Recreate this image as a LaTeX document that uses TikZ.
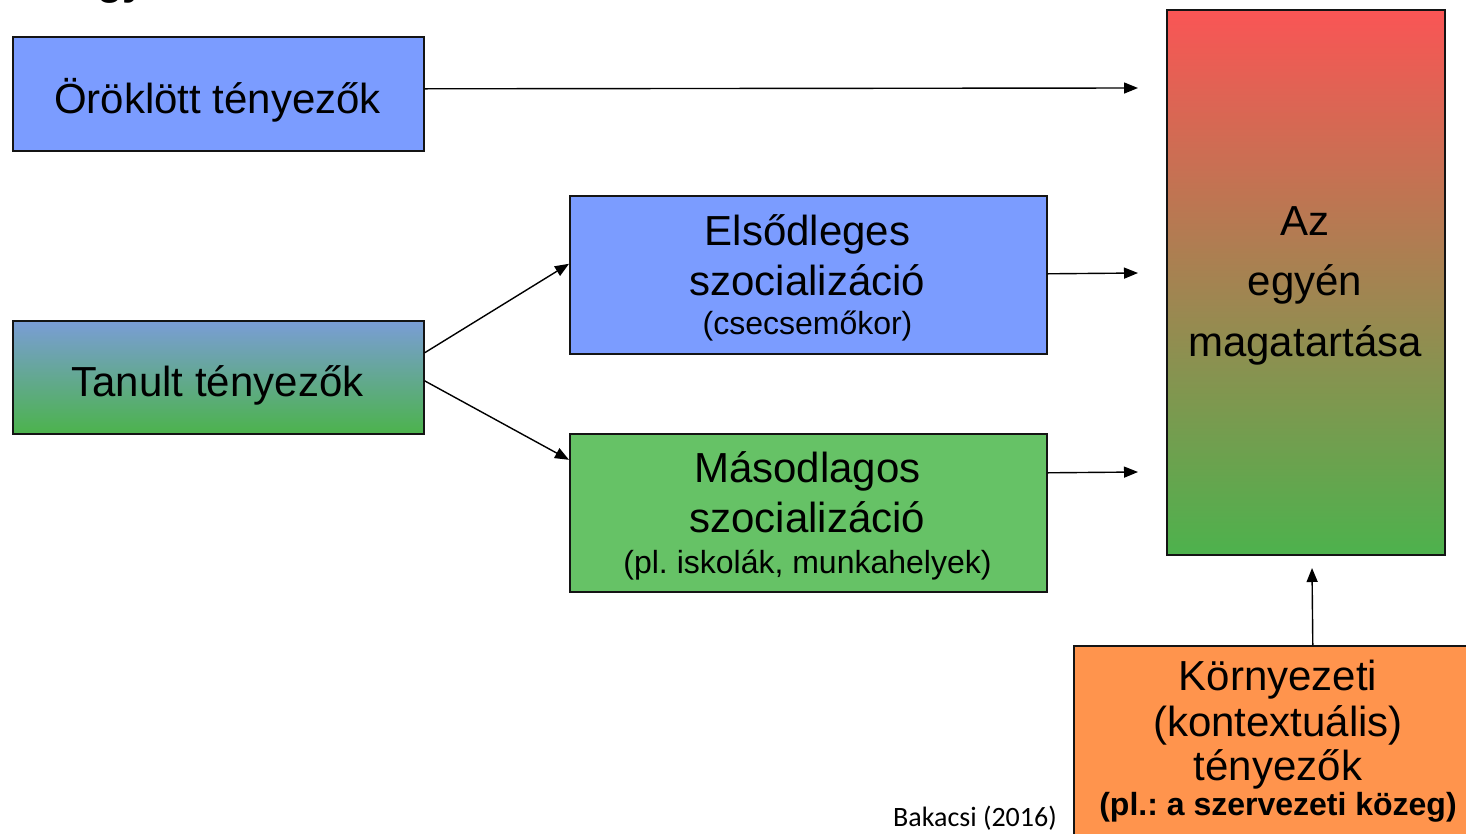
\documentclass[tikz,border=0pt]{standalone}
\usepackage{fontspec}
\setmainfont{Liberation Sans}
\newfontfamily\notefont{Carlito}
\usetikzlibrary{arrows.meta}
\frenchspacing

\definecolor{boxblue}{HTML}{7B9CFF}
\definecolor{boxgreen}{HTML}{66C266}
\definecolor{learntop}{HTML}{7A9DD6}
\definecolor{learnbot}{HTML}{4CB34C}
\definecolor{behtop}{HTML}{FA5555}
\definecolor{behbot}{HTML}{4DB24D}
\definecolor{boxorange}{HTML}{FF944D}
\definecolor{edge}{HTML}{141414}

\tikzset{
  box/.style={draw=edge, line width=1.6pt, rectangle, anchor=north west, inner sep=0pt},
  big/.style={font=\fontsize{42}{48}\selectfont, inner sep=0pt, anchor=base},
  small/.style={font=\fontsize{32}{38}\selectfont, inner sep=0pt, anchor=base},
  arr/.style={line width=1.4pt, -{Triangle[length=14pt,width=11pt]}}
}

\begin{document}
\begin{tikzpicture}[x=1pt,y=-1pt]
\useasboundingbox (0,0) rectangle (1466,833);
\fill[white] (0,0) rectangle (1466,833);

% heading, mostly above the page
\node[font=\fontsize{42}{48}\selectfont\bfseries, inner sep=0pt, anchor=base west] (head) at (97,-6) {gy};

% boxes
\node[box, fill=boxblue, minimum width=411pt, minimum height=114pt] (inh) at (12,36) {};
\node[box, shading=axis, top color=learntop, bottom color=learnbot, minimum width=411pt, minimum height=113pt] (learn) at (12,320) {};
\node[box, fill=boxblue, minimum width=477pt, minimum height=158pt] (prim) at (569,195) {};
\node[box, fill=boxgreen, minimum width=477pt, minimum height=158pt] (sec) at (569,433) {};
\node[box, shading=axis, top color=behtop, bottom color=behbot, minimum width=278pt, minimum height=545pt] (beh) at (1166,9) {};
\node[box, fill=boxorange, minimum width=410pt, minimum height=192pt] (env) at (1073,645) {};

% texts
\node[big] (inhT) at (217.5,113) {Öröklött tényezők};
\node[big] (learnT) at (217.5,396) {Tanult tényezők};

\node[big] (primA) at (807.5,245) {Elsődleges};
\node[big] (primB) at (807.5,295) {szocializáció};
\node[small] (primC) at (807.5,334) {(csecsemőkor)};

\node[big] (secA) at (807.5,482) {Másodlagos};
\node[big] (secB) at (807.5,532) {szocializáció};
\node[small] (secC) at (807.5,573) {(pl. iskolák, munkahelyek)};

\node[big] (behA) at (1305,235) {Az};
\node[big] (behB) at (1305,295) {egyén};
\node[big] (behC) at (1305,356) {magatartása};

\node[big] (envA) at (1278,690) {Környezeti};
\node[big] (envB) at (1278,736) {(kontextuális)};
\node[big] (envC) at (1278,780) {tényezők};
\node[small, font=\fontsize{32}{38}\selectfont\bfseries] (envD) at (1278,815) {(pl.: a szervezeti közeg)};

\node[font=\notefont\fontsize{28}{32}\selectfont, inner sep=0pt, anchor=base east] (src) at (1057,826) {Bakacsi (2016)};

% connector ends in front of the behaviour box
\coordinate (inhEnd) at (1138,88);
\coordinate (primEnd) at (1138,273);
\coordinate (secEnd) at (1138,472);
\coordinate (envEnd) at (1312,568);

% connectors
\draw[arr] ([yshift=5pt]inh.east) -- (inhEnd);
\draw[arr] ([yshift=24.5pt]learn.east) -- ([yshift=11pt]prim.west);
\draw[arr] ([yshift=-3.5pt]learn.east) -- ([yshift=53pt]sec.west);
\draw[arr] ([yshift=1pt]prim.east) -- (primEnd);
\draw[arr] ([yshift=40pt]sec.east) -- (secEnd);
\draw[arr] ([xshift=34pt]env.north) -- (envEnd);
\end{tikzpicture}
\end{document}
